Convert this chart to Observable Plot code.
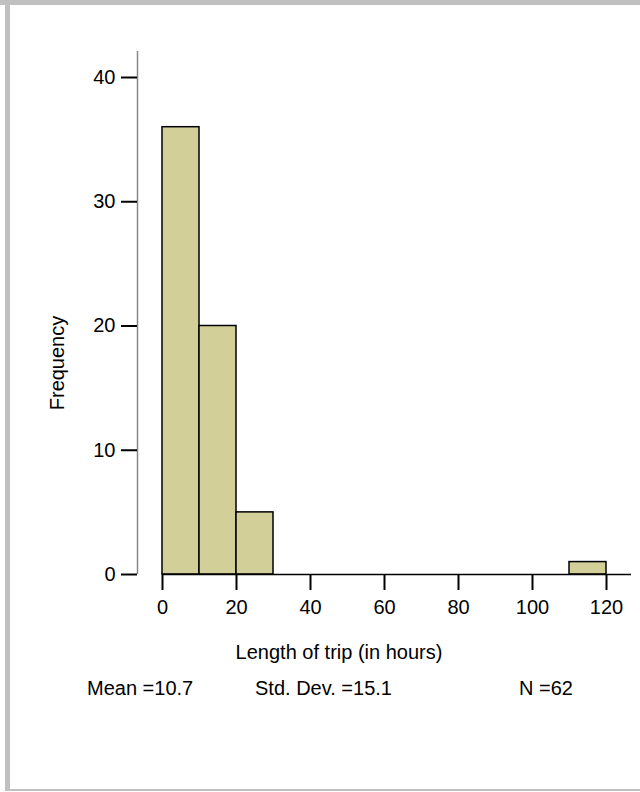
<!DOCTYPE html>
<html>
<head>
<meta charset="utf-8">
<script src="https://cdn.jsdelivr.net/npm/d3@7"></script>
<script src="https://cdn.jsdelivr.net/npm/@observablehq/plot@0.6"></script>
<style>
  body { margin: 0; background: #fff; font-family: "Liberation Sans", Arial, sans-serif; }
  #wrap { position: relative; width: 640px; height: 792px; overflow: hidden; background: #fff; }
  .ft { position: absolute; left: 0; top: 0; width: 640px; height: 5px; background: #c0c0c0; }
  .fl { position: absolute; left: 5px; top: 0; width: 5px; height: 791px; background: #c0c0c0; }
  .fb { position: absolute; left: 5px; top: 789px; width: 635px; height: 2px; background: #c0c0c0; }
  #chart { position: absolute; left: 0; top: 0; }
  #chart svg text { font-size: 20px; }
  .stat { position: absolute; top: 676px; font-size: 20px; line-height: 24px; color: #000; white-space: nowrap; }
</style>
</head>
<body>
<div id="wrap">
  <div id="chart"></div>
  <div class="ft"></div>
  <div class="fl"></div>
  <div class="fb"></div>
  <div class="stat" id="s1" style="left:87px"></div>
  <div class="stat" id="s2" style="left:255px"></div>
  <div class="stat" id="s3" style="left:519px"></div>
</div>
<script>
// Histogram bins (hours) and frequencies
const binStart = [0, 10, 20, 110];
const binEnd   = [10, 20, 30, 120];
const counts   = [36, 20, 5, 1];

const xTicks = [0, 20, 40, 60, 80, 100, 120];
const yTicks = [0, 10, 20, 30, 40];

const xLabel = "Length of trip (in hours)";
const yLabel = "Frequency";
const stats = ["Mean =10.7", "Std. Dev. =15.1", "N =62"];

const bins = binStart.map((s, i) => ({x1: s, x2: binEnd[i], count: counts[i]}));

const font = "Liberation Sans, Arial, sans-serif";

const chart = Plot.plot({
  width: 640,
  height: 660,
  marginLeft: 162,
  marginRight: 9,
  marginTop: 51,
  marginBottom: 86,
  style: {fontFamily: font, fontSize: "20px", color: "#000", background: "transparent", overflow: "visible"},
  x: {domain: [0, 120], range: [162, 606]},
  y: {domain: [0, 40], range: [574, 77]},
  marks: [
    Plot.rectY(bins, {x1: "x1", x2: "x2", y1: 0, y2: "count", fill: "#d3cf99", stroke: "#000", strokeWidth: 1.5}),
    Plot.ruleY([0], {stroke: "#000", strokeWidth: 1.5}),
    Plot.ruleX([0], {dx: -25, stroke: "#888", strokeWidth: 1.5}),
    Plot.axisY({ticks: yTicks, tickSize: 16, tickPadding: 6, dx: -25, fontSize: 20, strokeWidth: 2, stroke: "#000", fill: "#000", label: null, tickFormat: d => String(d)}),
    Plot.axisX({ticks: xTicks, tickSize: 16, tickPadding: 9, fontSize: 20, strokeWidth: 2, stroke: "#000", fill: "#000", label: null, tickFormat: d => String(d)}),
    Plot.text([yLabel], {frameAnchor: "left", rotate: -90, textAnchor: "middle", lineAnchor: "middle", dx: -105, dy: 50, fontSize: 20, fill: "#000"}),
    Plot.text([xLabel], {frameAnchor: "bottom", textAnchor: "middle", lineAnchor: "middle", dx: -58, dy: 78, fontSize: 20, fill: "#000"})
  ]
});
document.getElementById("chart").appendChild(chart);
document.getElementById("s1").textContent = stats[0];
document.getElementById("s2").textContent = stats[1];
document.getElementById("s3").textContent = stats[2];
</script>
</body>
</html>
